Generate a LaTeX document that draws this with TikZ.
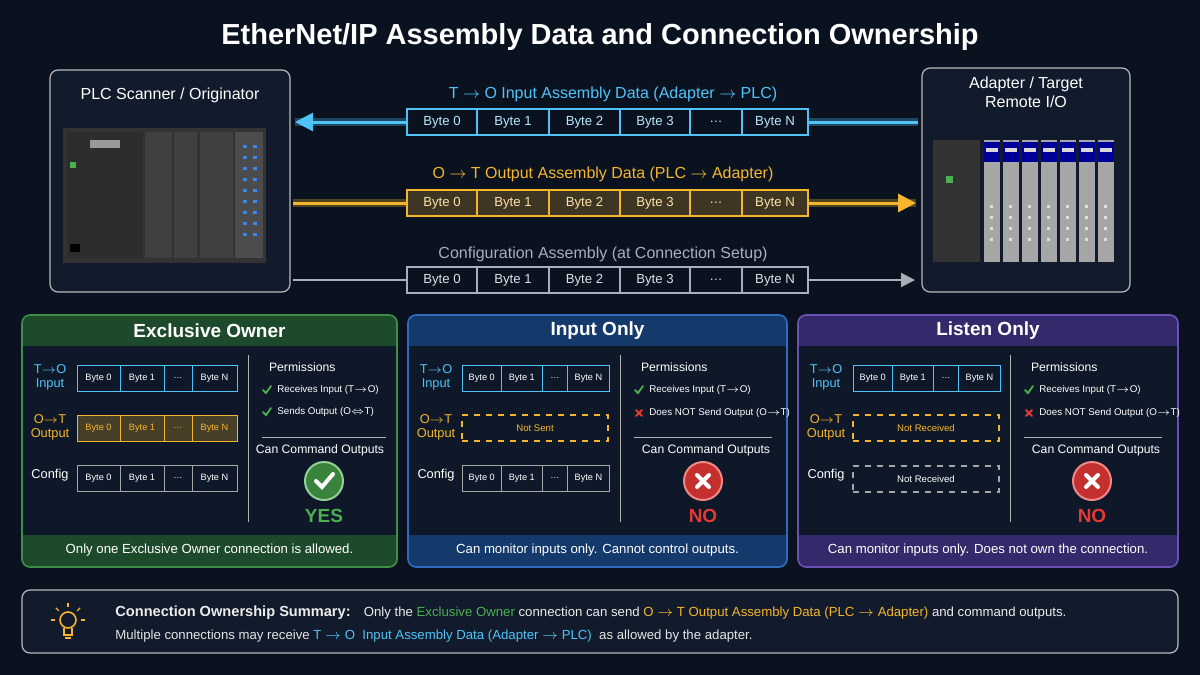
\documentclass[tikz,border=0pt]{standalone}
\usepackage{fontspec}
\setmainfont{Liberation Sans}
\usetikzlibrary{arrows.meta}
\definecolor{bg}{HTML}{0A1220}
\definecolor{boxbg}{HTML}{111B2C}
\definecolor{cy}{HTML}{4FC3F7}
\definecolor{org}{HTML}{F5B52E}
\definecolor{gry}{HTML}{A9AFB8}
\definecolor{grn}{HTML}{4CAF50}
\definecolor{rd}{HTML}{E53935}
\definecolor{pbody}{HTML}{0E1828}
\definecolor{gB}{HTML}{3F8F4A}\definecolor{gH}{HTML}{1E4A2C}
\definecolor{bB}{HTML}{2F6CC0}\definecolor{bH}{HTML}{143A6C}
\definecolor{uB}{HTML}{6A50B2}\definecolor{uH}{HTML}{34296A}
\tikzset{
 lbl/.style={font=\fontsize{8}{9}\selectfont,inner sep=0},
 cell/.style={draw=#1,line width=0.6pt,inner sep=0,font=\fontsize{6.6}{7}\selectfont,text=white},
 scell/.style={draw=#1,line width=0.5pt,inner sep=0,font=\fontsize{4.6}{5}\selectfont,text=white},
 small/.style={font=\fontsize{4.9}{6}\selectfont,text=white,inner sep=0,anchor=west},
}
\def\pw{1}\def\dv{226}
\newcommand\toprow[4]{% name, ytop, color, fill
 \foreach \a/\b/\t [count=\i] in {0/70/Byte 0,70/142/Byte 1,142/213/Byte 2,213/283/Byte 3,283/335/\dots,335/401/Byte N}{
  \node[cell=#3,fill=#4,minimum width=(\b-\a)*0.5pt,minimum height=13pt,text=#3!40!white] (#1\i) at ({407+(\a+\b)/2},#2+13) {\t};}}
\newcommand\prow[6]{% name, x, ytop, color, fill, textcolor
 \foreach \a/\b/\t [count=\i] in {0/43/Byte 0,43/87/Byte 1,87/115/\dots,115/160/Byte N}{
  \node[scell=#4,fill=#5,minimum width=(\b-\a)*0.5pt*\pw,minimum height=13pt,text=#6] (#1\i) at ({#2+\pw*(\a+\b)/2},#3+13) {\t};}}
\newcommand\chk[2]{\draw[grn,line width=0.9pt,line cap=round] (#1-4,#2) -- (#1-1,#2+3) -- (#1+4,#2-4);}
\newcommand\crs[2]{\draw[rd,line width=0.9pt,line cap=round] (#1-3,#2-3) -- (#1+3,#2+3) (#1-3,#2+3) -- (#1+3,#2-3);}
\newcommand\panel[9]{% name,x0,border,header,title,footer,x1
 \fill[pbody,rounded corners=4pt] (#2,315) rectangle (#7,567);
 \begin{scope}
 \clip[rounded corners=4pt] (#2,315) rectangle (#7,567);
 \fill[#4] (#2,315) rectangle (#7,346);
 \fill[#4] (#2,535) rectangle (#7,567);
 \end{scope}
 \draw[#3,line width=0.8pt,rounded corners=4pt] (#2,315) rectangle (#7,567);
 \node[font=\bfseries\fontsize{9.5}{11}\selectfont,text=white] (#1t) at ({(#2+#7)/2},331) {#5};
 \node[font=\fontsize{6.6}{8}\selectfont,text=white] (#1f) at ({(#2+#7)/2},550) {#6};
 \draw[gray!60,line width=0.5pt] (#2+\dv,355) -- (#2+\dv,522);
 \draw[gray!60,line width=0.5pt] (#2+\dv+14,437) -- (#2+364,437);
 \node[font=\fontsize{6.1}{7}\selectfont,text=white,anchor=west] (#1p) at (#2+\dv+14,367) {Permissions};
 \node[font=\fontsize{6.1}{7}\selectfont,text=white] (#1c) at (#2+298,450) {Can Command Outputs};
 \node[lbl,cy,align=center,font=\fontsize{6.4}{7}\selectfont] (#1li) at (#2+28,377) {T$\rightarrow$O\\Input};
 \node[lbl,org,align=center,font=\fontsize{6.4}{7}\selectfont] (#1lo) at (#2+28,427) {O$\rightarrow$T\\Output};
 \node[lbl,white,font=\fontsize{6.4}{7}\selectfont] (#1lc) at (#2+28,475) {Config};
 \chk{#2+\dv+19}{390}\node[small] (#1q1) at (#2+\dv+29,390) {Receives Input (T$\rightarrow$O)};
 #8 #9}
\begin{document}
\begin{tikzpicture}[x=0.5pt,y=-0.5pt]
\fill[bg] (0,0) rectangle (1200,675);
\useasboundingbox (0,0) rectangle (1200,675);
\node[font=\bfseries\fontsize{14.5}{16}\selectfont,text=white] (title) at (600,37) {EtherNet/IP Assembly Data and Connection Ownership};
% PLC box
\draw[gray!55,fill=boxbg,rounded corners=4pt,line width=0.6pt] (50,70) rectangle (290,292);
\node[font=\fontsize{8}{9}\selectfont,text=white] (plct) at (170,95) {PLC Scanner / Originator};
\fill[black!80] (63,128) rectangle (266,263);
\fill[black!65!gray] (66,132) rectangle (143,258);
\fill[black!50!gray] (145,132) rectangle (172,258);
\fill[black!50!gray] (174,132) rectangle (197,258);
\fill[black!50!gray] (200,132) rectangle (233,258);
\fill[black!70] (235,132) rectangle (263,258);
\foreach \j in {0,...,8}{\fill[cy!70!blue] (243,{145+\j*11}) rectangle (247,{148+\j*11}); \fill[cy!70!blue] (253,{145+\j*11}) rectangle (257,{148+\j*11});}
\fill[grn] (70,162) rectangle (76,168);
\fill[black!40] (90,140) rectangle (120,148);
\fill[black] (70,244) rectangle (80,252);
% Adapter box
\draw[gray!55,fill=boxbg,rounded corners=4pt,line width=0.6pt] (922,68) rectangle (1130,292);
\node[font=\fontsize{8}{9.5}\selectfont,text=white,align=center] (adt) at (1026,92) {Adapter / Target\\Remote I/O};
\fill[black!80] (933,140) rectangle (980,262);
\fill[grn] (946,176) rectangle (953,183);
\foreach \k in {0,...,6}{
 \fill[gray!70] ({984+\k*19},140) rectangle ({1000+\k*19},262);
 \fill[blue!60!black] ({984+\k*19},142) rectangle ({1000+\k*19},162);
 \fill[gray!30] ({986+\k*19},148) rectangle ({998+\k*19},152);
 \foreach \m in {0,...,3}{\fill[gray!25] ({990+\k*19},{205+\m*11}) rectangle ({993+\k*19},{208+\m*11});}}
% Row 1
\node[lbl,text=cy] (l1) at (613,94) {T $\rightarrow$ O Input Assembly Data (Adapter $\rightarrow$ PLC)};
\coordinate (a1s) at (918,122); \coordinate (a1e) at (295,122);
\draw[cy,opacity=0.3,line width=4pt] (a1s) -- (a1e);
\draw[cy,line width=1.5pt,-{Triangle[length=9pt,width=9pt]}] (a1s) -- (a1e);
\toprow{r1c}{109}{cy}{bg}
% Row 2
\node[lbl,text=org] (l2) at (603,174) {O $\rightarrow$ T Output Assembly Data (PLC $\rightarrow$ Adapter)};
\coordinate (a2s) at (293,203); \coordinate (a2e) at (916,203);
\draw[org,opacity=0.3,line width=4pt] (a2s) -- (a2e);
\draw[org,line width=1.5pt,-{Triangle[length=9pt,width=9pt]}] (a2s) -- (a2e);
\toprow{r2c}{190}{org}{org!22!bg}
% Row 3
\node[lbl,text=gry] (l3) at (603,254) {Configuration Assembly (at Connection Setup)};
\coordinate (a3s) at (293,280); \coordinate (a3e) at (915,280);
\draw[gry,line width=1pt,-{Triangle[length=7pt,width=7pt]}] (a3s) -- (a3e);
\toprow{r3c}{267}{gry}{bg}
% Panels
\panel{pa}{22}{gB}{gH}{Exclusive Owner}{Only one Exclusive Owner connection is allowed.}{397}{%
 \prow{pai}{77}{365}{cy}{pbody}{white}\prow{pao}{77}{415}{org}{org!25!pbody}{org}\prow{pac}{77}{465}{gray!70}{pbody}{white}
 \chk{267}{412}\node[small] (pa2) at (277,412) {Sends Output (O$\Leftrightarrow$T)};}{%
 \node[circle,fill=grn!75!black,draw=grn!60!white,line width=1pt,minimum size=19pt] (pam) at (324,481) {};
 \draw[white,line width=2pt,line cap=round] (316,481) -- (322,487) -- (333,474);
 \node[font=\bfseries\fontsize{9.5}{11}\selectfont,text=grn] (pay) at (324,516) {YES};}
\def\pw{0.92}\def\dv{212}
\panel{pb}{408}{bB}{bH}{Input Only}{Can monitor inputs only. Cannot control outputs.}{787}{%
 \prow{pbi}{462}{365}{cy}{pbody}{white}
 \node[draw=org,dashed,line width=0.6pt,minimum width=73pt,minimum height=13pt,inner sep=0,font=\fontsize{4.8}{5}\selectfont,text=org] (pbo) at (535,428) {Not Sent};
 \prow{pbc}{462}{465}{gray!70}{pbody}{white}
 \crs{639}{413}\node[small] (pb2) at (649,413) {Does NOT Send Output (O$\rightarrow$T)};}{%
 \node[circle,fill=rd!85!black,draw=rd!60!white,line width=1pt,minimum size=19pt] (pbm) at (703,481) {};
 \draw[white,line width=2pt,line cap=round] (697,475) -- (709,487) (697,487) -- (709,475);
 \node[font=\bfseries\fontsize{9.5}{11}\selectfont,text=rd] (pbn) at (703,516) {NO};}
\panel{pc}{798}{uB}{uH}{Listen Only}{Can monitor inputs only. Does not own the connection.}{1178}{%
 \prow{pci}{853}{365}{cy}{pbody}{white}
 \node[draw=org,dashed,line width=0.6pt,minimum width=73pt,minimum height=13pt,inner sep=0,font=\fontsize{4.8}{5}\selectfont,text=org] (pco) at (926,428) {Not Received};
 \node[draw=gray!70,dashed,line width=0.6pt,minimum width=73pt,minimum height=13pt,inner sep=0,font=\fontsize{4.8}{5}\selectfont,text=white] (pcc) at (926,479) {Not Received};
 \crs{1029}{413}\node[small] (pc2) at (1039,413) {Does NOT Send Output (O$\rightarrow$T)};}{%
 \node[circle,fill=rd!85!black,draw=rd!60!white,line width=1pt,minimum size=19pt] (pcm) at (1092,481) {};
 \draw[white,line width=2pt,line cap=round] (1086,475) -- (1098,487) (1086,487) -- (1098,475);
 \node[font=\bfseries\fontsize{9.5}{11}\selectfont,text=rd] (pcn) at (1092,516) {NO};}
% Summary
\draw[gray!55,fill=boxbg,rounded corners=4pt,line width=0.6pt] (22,590) rectangle (1178,653);
\draw[org,line width=0.8pt] (68,620) circle (8);
\draw[org,line width=0.8pt] (64,628) -- (64,635) -- (72,635) -- (72,628) (65,638) -- (71,638);
\foreach \ang in {0,45,90,135,180}{\draw[org,line width=0.7pt] ({68+13*cos(\ang)},{620-13*sin(\ang)}) -- ({68+17*cos(\ang)},{620-17*sin(\ang)});}
\node[anchor=west,inner sep=0,font=\fontsize{6.6}{8}\selectfont,text=white!85!gray] (s1) at (115,613) {{\bfseries\fontsize{7.3}{8}\selectfont Connection Ownership Summary:}\quad Only the \textcolor{grn}{Exclusive Owner} connection can send \textcolor{org}{O $\rightarrow$ T Output Assembly Data (PLC $\rightarrow$ Adapter)} and command outputs.};
\node[anchor=west,inner sep=0,font=\fontsize{6.6}{8}\selectfont,text=white!80!gray] (s2) at (115,636) {Multiple connections may receive \textcolor{cy}{T $\rightarrow$ O\ \ Input Assembly Data (Adapter $\rightarrow$ PLC)}\ \ as allowed by the adapter.};
\end{tikzpicture}
\end{document}
